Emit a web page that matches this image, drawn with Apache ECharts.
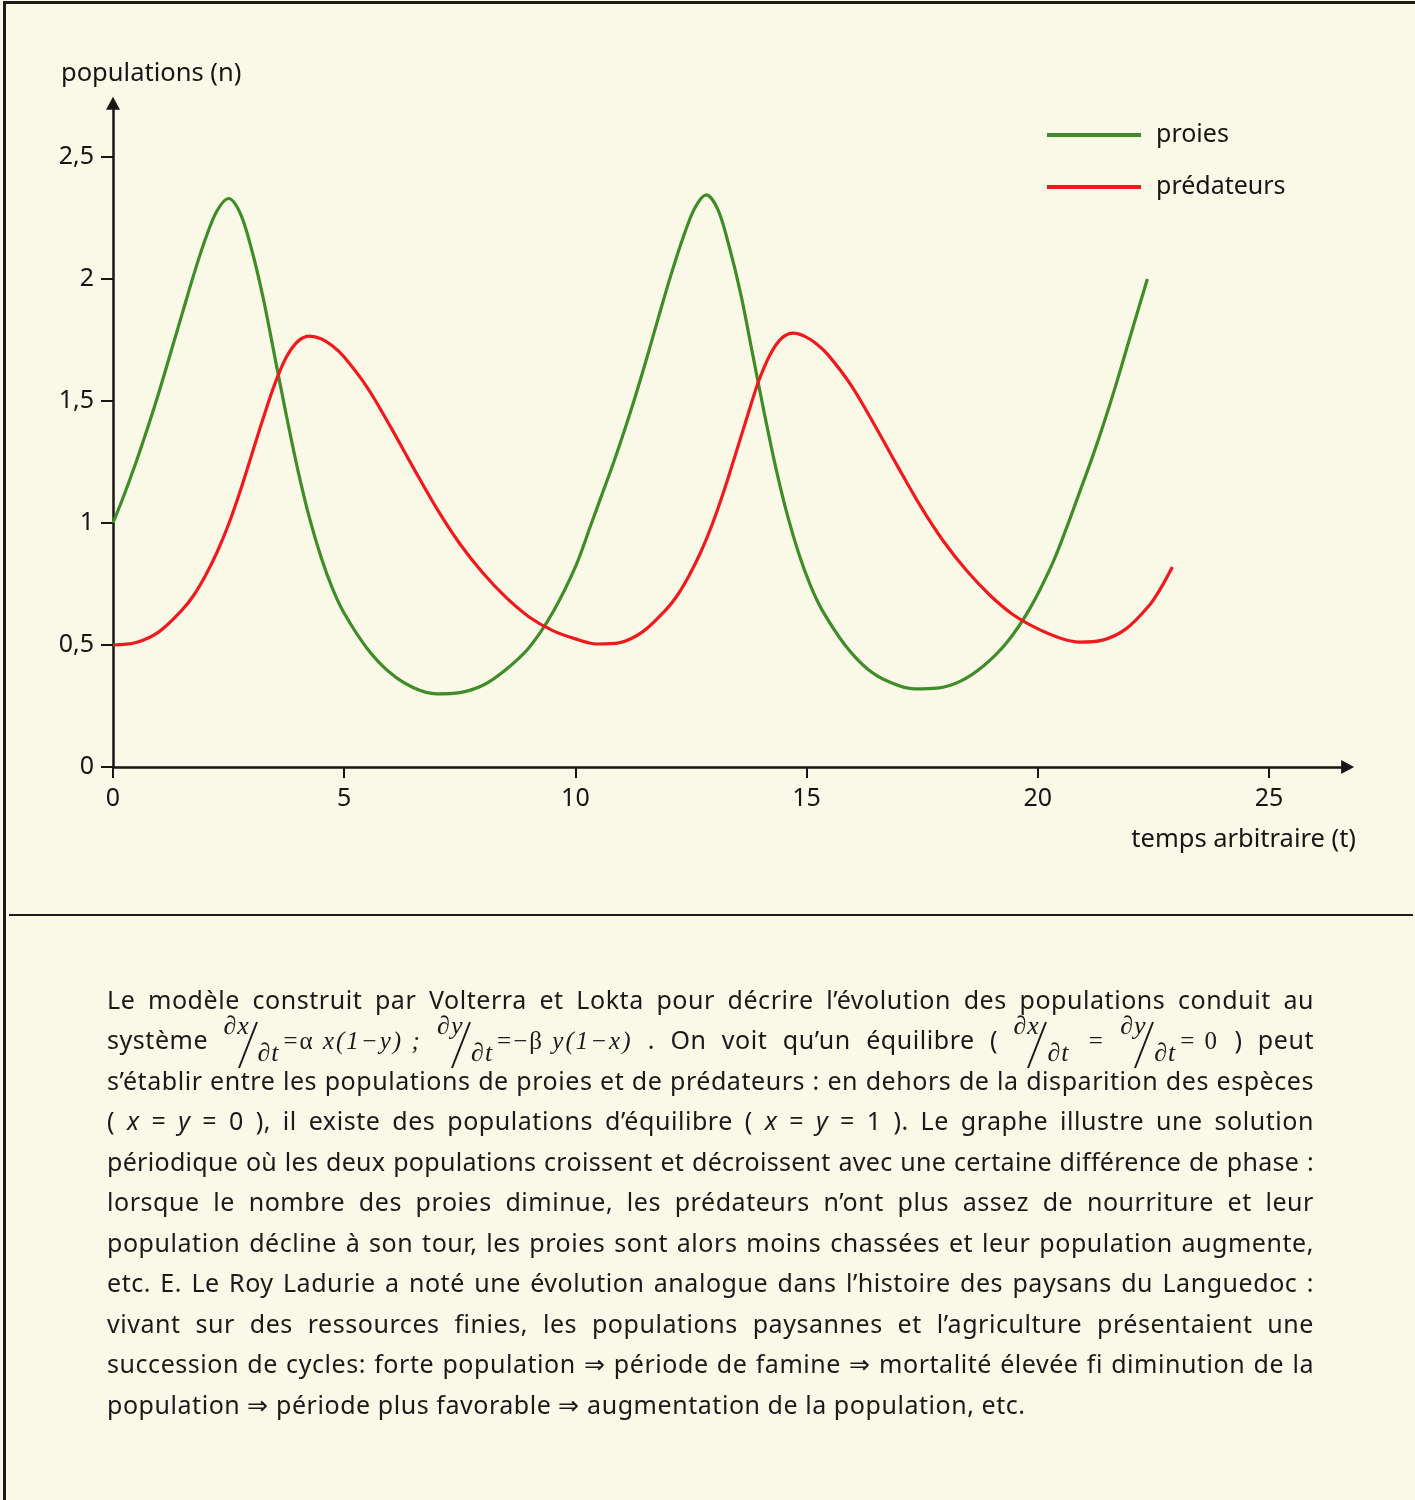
<!DOCTYPE html>
<html><head><meta charset="utf-8">
<script src="https://cdn.jsdelivr.net/npm/echarts@6/dist/echarts.min.js"></script>
<style>
html,body{margin:0;padding:0;background:#FAF8E6;}
#page{position:relative;width:1415px;height:1500px;overflow:hidden;background:#FAF8E6;}
#frame{position:absolute;left:3px;top:1px;width:1430px;height:1520px;border-top:3px solid #1c1c1c;border-left:3px solid #1c1c1c;box-sizing:border-box;}
#chart{position:absolute;left:0;top:0;width:1415px;height:912px;}
#divider{position:absolute;left:9px;top:914px;width:1404px;height:2px;background:#1c1c1c;}
#text{position:absolute;left:107px;top:0;width:1207px;height:1500px;font-family:'Noto Sans',sans-serif;font-size:25px;letter-spacing:0.55px;color:#1a1a1a;}
.ln{position:absolute;left:0;width:1207px;height:40px;line-height:40px;text-align:justify;text-align-last:justify;white-space:nowrap;}
.ln.tight{letter-spacing:0.3px;}
.ln.last{text-align:left;text-align-last:left;}
.fr{display:inline-block;position:relative;width:60px;height:20px;vertical-align:baseline;font-family:'Liberation Serif',serif;font-style:italic;font-size:26px;line-height:26px;white-space:nowrap;text-align:left;text-align-last:left;letter-spacing:1px;}
.fr .n{position:absolute;left:0;top:-16px;}
.fr .d{position:absolute;left:34px;top:11px;}
.fr svg{position:absolute;left:12px;top:-8px;}
.eq{display:inline-block;font-family:'Liberation Serif',serif;font-size:25px;white-space:nowrap;letter-spacing:2px;}
.eq i{font-style:italic;}
.iv{font-style:italic;}
</style></head>
<body><div id="page">
<div id="chart"></div>
<div id="frame"></div>
<div id="divider"></div>
<div id="text">
<div class="ln" style="top:979px">Le modèle construit par Volterra et Lokta pour décrire l’évolution des populations conduit au</div>
<div class="ln" style="top:1019px">système <span class="fr"><span class="n">∂x</span><svg width="24" height="48"><line x1="3" y1="47" x2="21" y2="1" stroke="#1a1a1a" stroke-width="2"/></svg><span class="d">∂t</span></span><span class="eq">=α <i>x(1−y) ;</i></span> <span class="fr"><span class="n">∂y</span><svg width="24" height="48"><line x1="3" y1="47" x2="21" y2="1" stroke="#1a1a1a" stroke-width="2"/></svg><span class="d">∂t</span></span><span class="eq">=−β <i>y(1−x)</i></span> . On voit qu’un équilibre ( <span class="fr"><span class="n">∂x</span><svg width="24" height="48"><line x1="3" y1="47" x2="21" y2="1" stroke="#1a1a1a" stroke-width="2"/></svg><span class="d">∂t</span></span> <span class="eq">=</span> <span class="fr"><span class="n">∂y</span><svg width="24" height="48"><line x1="3" y1="47" x2="21" y2="1" stroke="#1a1a1a" stroke-width="2"/></svg><span class="d">∂t</span></span><span class="eq">= 0</span> ) peut</div>
<div class="ln" style="top:1060px">s’établir entre les populations de proies et de prédateurs : en dehors de la disparition des espèces</div>
<div class="ln" style="top:1100px">( <span class="iv">x</span> = <span class="iv">y</span> = 0 ), il existe des populations d’équilibre ( <span class="iv">x</span> = <span class="iv">y</span> = 1 ). Le graphe illustre une solution</div>
<div class="ln tight" style="top:1141px">périodique où les deux populations croissent et décroissent avec une certaine différence de phase :</div>
<div class="ln" style="top:1181px">lorsque le nombre des proies diminue, les prédateurs n’ont plus assez de nourriture et leur</div>
<div class="ln" style="top:1222px">population décline à son tour, les proies sont alors moins chassées et leur population augmente,</div>
<div class="ln" style="top:1262px">etc. E. Le Roy Ladurie a noté une évolution analogue dans l’histoire des paysans du Languedoc :</div>
<div class="ln" style="top:1303px">vivant sur des ressources finies, les populations paysannes et l’agriculture présentaient une</div>
<div class="ln" style="top:1343px">succession de cycles: forte population ⇒ période de famine ⇒ mortalité élevée fi diminution de la</div>
<div class="ln last" style="top:1384px">population ⇒ période plus favorable ⇒ augmentation de la population, etc.</div>
</div>
</div>
<script>
// ---- data ----
const seriesNames = ['proies', 'prédateurs'];
const axisNames = ['temps arbitraire (t)', 'populations (n)'];
const xTicks = [0, 5, 10, 15, 20, 25];
const yTicks = [0, 0.5, 1, 1.5, 2, 2.5];
const yTickLabels = ['0', '0,5', '1', '1,5', '2', '2,5'];

const proiesT = [0, 0.25, 0.5, 0.75, 1, 1.25, 1.5, 1.75, 2, 2.25,
  2.5, 2.75, 3, 3.25, 3.5, 3.75, 4, 4.25, 4.5, 4.75,
  5, 5.5, 6, 6.5, 7, 7.5, 8, 8.5, 9, 9.5,
  10, 10.33, 10.58, 10.83, 11.08, 11.33, 11.58, 11.83, 12.08, 12.33,
  12.58, 12.83, 13.08, 13.33, 13.58, 13.83, 14.08, 14.33, 14.58, 14.83,
  15.08, 15.33, 15.83, 16.33, 16.83, 17.33, 17.83, 18.33, 18.83, 19.33,
  19.83, 20.33, 20.68, 20.93, 21.18, 21.43, 21.68, 21.93, 22.18, 22.37];
const proiesV = [1.00, 1.12, 1.25, 1.39, 1.54, 1.70, 1.86, 2.02, 2.165, 2.28,
  2.33, 2.27, 2.12, 1.92, 1.68, 1.44, 1.215, 1.02, 0.86, 0.73,
  0.63, 0.485, 0.385, 0.325, 0.30, 0.305, 0.335, 0.40, 0.49, 0.63,
  0.82, 0.99, 1.12, 1.25, 1.39, 1.54, 1.70, 1.865, 2.025, 2.17,
  2.29, 2.345, 2.285, 2.13, 1.935, 1.695, 1.455, 1.23, 1.035, 0.875,
  0.745, 0.645, 0.50, 0.40, 0.345, 0.32, 0.323, 0.352, 0.415, 0.51,
  0.65, 0.84, 1.01, 1.14, 1.27, 1.41, 1.56, 1.72, 1.88, 2.00];

const predT = [0, 0.5, 1, 1.5, 1.75, 2, 2.25, 2.5, 2.75, 3,
  3.25, 3.5, 3.75, 4, 4.25, 4.5, 4.75, 5, 5.5, 6,
  6.5, 7, 7.5, 8, 8.5, 9, 9.5, 10, 10.46, 10.96,
  11.46, 11.96, 12.21, 12.46, 12.71, 12.96, 13.21, 13.46, 13.71, 13.96,
  14.21, 14.46, 14.71, 14.96, 15.21, 15.46, 15.96, 16.46, 16.96, 17.46,
  17.96, 18.46, 18.96, 19.46, 19.96, 20.46, 20.9, 21.4, 21.9, 22.4,
  22.65, 22.91];
const predV = [0.50, 0.51, 0.555, 0.645, 0.705, 0.785, 0.88, 0.995, 1.13, 1.28,
  1.43, 1.57, 1.68, 1.745, 1.766, 1.755, 1.725, 1.68, 1.555, 1.395,
  1.225, 1.06, 0.915, 0.795, 0.695, 0.615, 0.56, 0.525, 0.504, 0.51,
  0.555, 0.645, 0.705, 0.785, 0.88, 0.995, 1.13, 1.28, 1.432, 1.58,
  1.69, 1.757, 1.778, 1.765, 1.735, 1.69, 1.565, 1.405, 1.235, 1.07,
  0.925, 0.805, 0.705, 0.625, 0.57, 0.53, 0.512, 0.52, 0.565, 0.66,
  0.73, 0.82];

const colors = ['#3f8c28', '#f0191e'];
const ink = '#161616';
const FONT = 'Noto Sans';

const pair = (ts, vs) => ts.map((t, i) => [t, vs[i]]);

const X_MAX = 26.7, Y_MAX = 2.72;
const PX_X = 46.24, PX_Y = 244;

const chart = echarts.init(document.getElementById('chart'));
chart.setOption({
  animation: false,
  backgroundColor: 'transparent',
  textStyle: { fontFamily: FONT },
  grid: { left: 113, top: 767 - Y_MAX * PX_Y, width: X_MAX * PX_X, height: Y_MAX * PX_Y, containLabel: false },
  legend: {
    orient: 'vertical', left: 1047, top: 122, padding: 0,
    itemWidth: 94, itemHeight: 4, itemGap: 26, icon: 'rect',
    textStyle: { fontSize: 25, color: ink, fontFamily: FONT, lineHeight: 26, padding: [0, 0, 0, 10] },
    data: seriesNames
  },
  xAxis: {
    type: 'value', min: 0, max: X_MAX, interval: 5,
    splitLine: { show: false },
    axisLine: { show: true, onZero: false, symbol: ['none', 'triangle'], symbolSize: [14, 13], lineStyle: { color: ink, width: 2.5 } },
    axisTick: { show: true, length: 11, inside: false, customValues: xTicks, lineStyle: { color: ink, width: 2 } },
    axisLabel: { customValues: xTicks, margin: 19, fontSize: 25, color: ink, fontFamily: FONT }
  },
  yAxis: {
    type: 'value', min: 0, max: Y_MAX, interval: 0.5,
    splitLine: { show: false },
    axisLine: { show: true, onZero: false, symbol: ['none', 'triangle'], symbolSize: [14, 13], lineStyle: { color: ink, width: 2.5 } },
    axisTick: { show: true, length: 12, inside: false, customValues: yTicks, lineStyle: { color: ink, width: 2 } },
    axisLabel: {
      customValues: yTicks, margin: 19, fontSize: 25, color: ink, fontFamily: FONT,
      formatter: v => { const i = yTicks.indexOf(v); return i >= 0 ? yTickLabels[i] : ''; }
    }
  },
  graphic: [
    { type: 'text', x: 61, y: 74, style: { text: axisNames[1], fontSize: 25.5, fontFamily: FONT, fill: ink, align: 'left', verticalAlign: 'middle' } },
    { type: 'text', x: 1356, y: 840, style: { text: axisNames[0], fontSize: 25.5, fontFamily: FONT, fill: ink, align: 'right', verticalAlign: 'middle' } }
  ],
  series: [
    { name: seriesNames[0], type: 'line', data: pair(proiesT, proiesV), smooth: 0.33, symbol: 'none', color: colors[0], lineStyle: { width: 3.2, color: colors[0] } },
    { name: seriesNames[1], type: 'line', data: pair(predT, predV), smooth: 0.33, symbol: 'none', color: colors[1], lineStyle: { width: 3.2, color: colors[1] } }
  ]
});
</script>
</body></html>
